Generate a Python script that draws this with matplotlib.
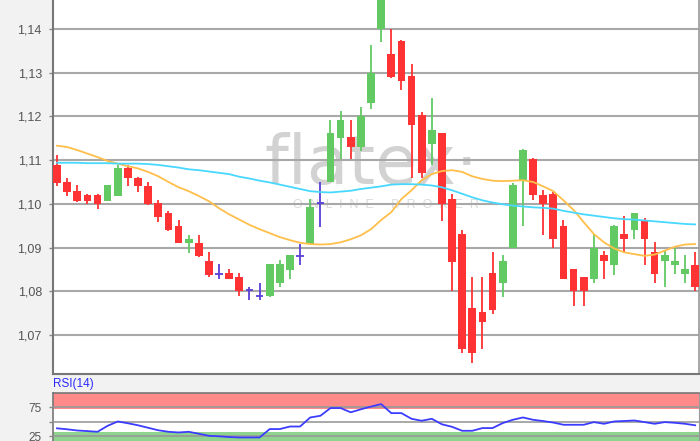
import matplotlib
matplotlib.use("Agg")
import matplotlib.pyplot as plt
import numpy as np

plt.rcParams['font.family'] = ['Liberation Sans', 'DejaVu Sans']

# ---------------- data ----------------
opens = [1.1090, 1.1051, 1.1030, 1.1021, 1.1021, 1.1007, 1.1019, 1.1081, 1.1060, 1.1041,
         1.1001, 1.0980, 1.0950, 1.0910, 1.0911, 1.0870, 1.0839, 1.0841, 1.0832, 1.0803,
         1.0789, 1.0789, 1.0818, 1.0848, 1.0881, 1.0909, 1.1001, 1.1050, 1.1151, 1.1153,
         1.1129, 1.1230, 1.1400, 1.1342, 1.1372, 1.1292, 1.1203, 1.1138, 1.1161, 1.1010,
         1.0930, 1.0761, 1.0752, 1.0841, 1.0818, 1.0899, 1.1054, 1.1102, 1.1021, 1.1022,
         1.0950, 1.0850, 1.0832, 1.0829, 1.0883, 1.0860, 1.0930, 1.0940, 1.0961, 1.0890,
         1.0869, 1.0860, 1.0839, 1.0861]
highs = [1.1111, 1.1060, 1.1042, 1.1023, 1.1022, 1.1043, 1.1090, 1.1090, 1.1062, 1.1051,
         1.1009, 1.0984, 1.0962, 1.0929, 1.0929, 1.0891, 1.0862, 1.0850, 1.0841, 1.0810,
         1.0819, 1.0863, 1.0871, 1.0884, 1.0909, 1.1010, 1.1050, 1.1191, 1.1212, 1.1191,
         1.1221, 1.1363, 1.1480, 1.1401, 1.1374, 1.1321, 1.1211, 1.1241, 1.1163, 1.1022,
         1.0940, 1.0832, 1.0832, 1.0890, 1.0883, 1.1047, 1.1125, 1.1104, 1.1031, 1.1028,
         1.0963, 1.0851, 1.0833, 1.0930, 1.0892, 1.0951, 1.0972, 1.0980, 1.0967, 1.0912,
         1.0892, 1.0900, 1.0883, 1.0889]
lows = [1.1040, 1.1019, 1.1005, 1.0999, 1.0989, 1.1006, 1.1018, 1.1040, 1.1027, 1.0998,
        1.0958, 1.0939, 1.0910, 1.0888, 1.0879, 1.0832, 1.0829, 1.0828, 1.0789, 1.0780,
        1.0780, 1.0788, 1.0809, 1.0829, 1.0860, 1.0908, 1.0947, 1.1049, 1.1102, 1.1102,
        1.1121, 1.1218, 1.1370, 1.1288, 1.1260, 1.1058, 1.1058, 1.1088, 1.0961, 1.0801,
        1.0658, 1.0637, 1.0669, 1.0749, 1.0787, 1.0898, 1.0949, 1.1008, 1.0928, 1.0898,
        1.0828, 1.0767, 1.0767, 1.0818, 1.0829, 1.0838, 1.0889, 1.0919, 1.0860, 1.0818,
        1.0809, 1.0839, 1.0818, 1.0801]
closes = [1.1048, 1.1027, 1.1007, 1.1007, 1.1000, 1.1042, 1.1081, 1.1059, 1.1041, 1.0999,
          1.0969, 1.0940, 1.0911, 1.0920, 1.0880, 1.0838, 1.0839, 1.0829, 1.0801, 1.0803,
          1.0789, 1.0862, 1.0862, 1.0883, 1.0881, 1.0992, 1.1001, 1.1161, 1.1191, 1.1129,
          1.1201, 1.1300, 1.1470, 1.1290, 1.1281, 1.1180, 1.1070, 1.1170, 1.0999, 1.0867,
          1.0669, 1.0658, 1.0729, 1.0758, 1.0870, 1.1043, 1.1123, 1.1020, 1.0999, 1.0919,
          1.0829, 1.0801, 1.0801, 1.0899, 1.0869, 1.0950, 1.0919, 1.0979, 1.0919, 1.0839,
          1.0882, 1.0870, 1.0850, 1.0810]

ma_short = [1.1133, 1.1130, 1.1123, 1.1115, 1.1107, 1.1098, 1.1092, 1.1086, 1.1081, 1.1073,
            1.1063, 1.1050, 1.1038, 1.1029, 1.1018, 1.1006, 1.0990, 1.0976, 1.0964, 1.0952,
            1.0942, 1.0933, 1.0924, 1.0917, 1.0911, 1.0908, 1.0907, 1.0908, 1.0912, 1.0919,
            1.0928, 1.0942, 1.0963, 1.0981, 1.1011, 1.1031, 1.1054, 1.1068, 1.1075, 1.1077,
            1.1073, 1.1063, 1.1057, 1.1053, 1.1052, 1.1053, 1.1054, 1.1050, 1.1040, 1.1029,
            1.1008, 1.0986, 1.0958, 1.0931, 1.0912, 1.0898, 1.0889, 1.0885, 1.0881, 1.0884,
            1.0893, 1.0902, 1.0907, 1.0908]
ma_long = [1.1094, 1.1094, 1.1094, 1.1093, 1.1093, 1.1093, 1.1092, 1.1092, 1.1092, 1.1091,
           1.1089, 1.1086, 1.1083, 1.1079, 1.1077, 1.1074, 1.1071, 1.1068, 1.1062, 1.1058,
           1.1053, 1.1049, 1.1044, 1.1039, 1.1034, 1.1029, 1.1027, 1.1026, 1.1028, 1.1030,
           1.1034, 1.1037, 1.1040, 1.1044, 1.1045, 1.1045, 1.1044, 1.1042, 1.1038, 1.1031,
           1.1023, 1.1015, 1.1008, 1.1003, 1.0999, 1.0996, 1.0994, 1.0992, 1.0991, 1.0989,
           1.0984, 1.0980, 1.0976, 1.0973, 1.0970, 1.0967, 1.0965, 1.0964, 1.0962, 1.0960,
           1.0958, 1.0956, 1.0954, 1.0953]
rsi = [39.1, 37.4, 35.3, 34.3, 33.1, 43.4, 50.9, 47.8, 44.3, 40.0,
       35.7, 33.1, 31.9, 33.1, 29.7, 26.2, 25.3, 24.0, 23.3, 23.3,
       23.3, 37.8, 37.8, 42.2, 42.2, 57.8, 60.7, 74.0, 74.0, 66.7,
       71.9, 76.6, 80.9, 65.3, 65.3, 55.5, 52.1, 55.5, 46.0, 41.7,
       34.8, 34.8, 39.5, 39.5, 48.1, 53.8, 57.8, 53.8, 51.6, 49.0,
       45.2, 45.2, 45.2, 49.8, 46.9, 50.9, 51.7, 52.6, 49.8, 46.9,
       49.8, 48.6, 46.9, 44.3]

price_ticks = [1.07, 1.08, 1.09, 1.10, 1.11, 1.12, 1.13, 1.14]
price_labels = ["1,07", "1,08", "1,09", "1,10", "1,11", "1,12", "1,13", "1,14"]
rsi_ticks = [25, 50, 75]
rsi_labels = ["25", "", "75"]

# ---------------- styling ----------------
BG = '#f2f2f2'
GREEN = '#63c963'
RED = '#ff3333'
DOJI = '#5b3fd9'
ORANGE = '#ffbf4a'
CYAN = '#48d8ff'
GRID = '#a8a8a8'
TXT = '#555555'

W, H = 700, 441
fig = plt.figure(figsize=(W / 100, H / 100), dpi=100, facecolor=BG)

ax = fig.add_axes([53 / W, 67 / H, 646 / W, 374 / H])
rax = fig.add_axes([53 / W, 0, 646 / W, 48 / H])

n = len(opens)
x = np.arange(n)

# watermark
ax.text(0.492, 0.56, 'flatex\u00b7', transform=ax.transAxes, ha='center', va='center',
        fontsize=49, color='#d2d2d2', zorder=0.5, family='DejaVu Sans')
ax.text(0.515, 0.452, 'O  N  L  I  N  E     B  R  O  K  E  R', transform=ax.transAxes,
        ha='center', va='center', fontsize=9, color='#dadada', zorder=0.5)

# candles
o = np.array(opens); c = np.array(closes); h = np.array(highs); l = np.array(lows)
colors = []
for oi, ci in zip(o, c):
    if ci > oi:
        colors.append(GREEN)
    elif ci < oi:
        colors.append(RED)
    else:
        colors.append(DOJI)
ax.vlines(x, l, h, colors=colors, linewidth=1.3, zorder=3)
bottoms = np.minimum(o, c)
heights = np.abs(c - o)
body_mask = heights > 0
ax.bar(x[body_mask], heights[body_mask], bottom=bottoms[body_mask], width=0.76,
       color=[col for col, m in zip(colors, body_mask) if m], linewidth=0, zorder=3)
doji = ~body_mask
ax.hlines(o[doji], x[doji] - 0.38, x[doji] + 0.38, colors=DOJI, linewidth=1.3, zorder=3)

ax.plot(x, ma_short, color=ORANGE, linewidth=1.3, zorder=4)
ax.plot(x, ma_long, color=CYAN, linewidth=1.3, zorder=4)

ax.set_xlim(-0.395, 63.38)
ax.set_ylim(1.06108, 1.14663)
ax.set_facecolor('white')
ax.set_yticks(price_ticks)
ax.set_yticklabels(price_labels)
ax.set_xticks([])
ax.yaxis.grid(True, color=GRID, linewidth=1.5, zorder=0)
ax.set_axisbelow(True)
ax.tick_params(axis='y', length=3, width=1, color='#888888', labelcolor=TXT, labelsize=9, pad=5)
for s in ['left', 'bottom']:
    ax.spines[s].set_color('#777777')
    ax.spines[s].set_linewidth(1.5)
ax.spines['right'].set_color('#999999')
ax.spines['right'].set_linewidth(1.2)
ax.spines['top'].set_visible(False)

# RSI panel
rax.set_facecolor('white')
rax.axhspan(72.5, 100, color='#ff8a8a', zorder=0.5, linewidth=0)
rax.axhspan(0, 33.5, color='#8ed48e', zorder=0.5, linewidth=0)
rax.plot(x, rsi, color='#3c3cff', linewidth=1.3, zorder=4)
rax.set_xlim(-0.395, 63.38)
rax.set_ylim(17.2, 100)
rax.set_yticks(rsi_ticks)
rax.set_yticklabels(rsi_labels)
rax.set_xticks([])
rax.yaxis.grid(True, color='#999999', linewidth=1.2, zorder=1)
rax.set_axisbelow(False)
rax.tick_params(axis='y', length=3, width=1, color='#888888', labelcolor=TXT, labelsize=8.5, pad=5)
for s in ['left', 'top']:
    rax.spines[s].set_color('#777777')
    rax.spines[s].set_linewidth(1.2)
rax.spines['right'].set_color('#999999')
rax.spines['bottom'].set_visible(False)
for gl in rax.get_ygridlines():
    gl.set_zorder(1)

fig.text(53 / W, (H - 384) / H, 'RSI(14)', color='#2a2aff', fontsize=8.5, va='center', ha='left')

fig.savefig('out.png', dpi=100, facecolor=BG)
